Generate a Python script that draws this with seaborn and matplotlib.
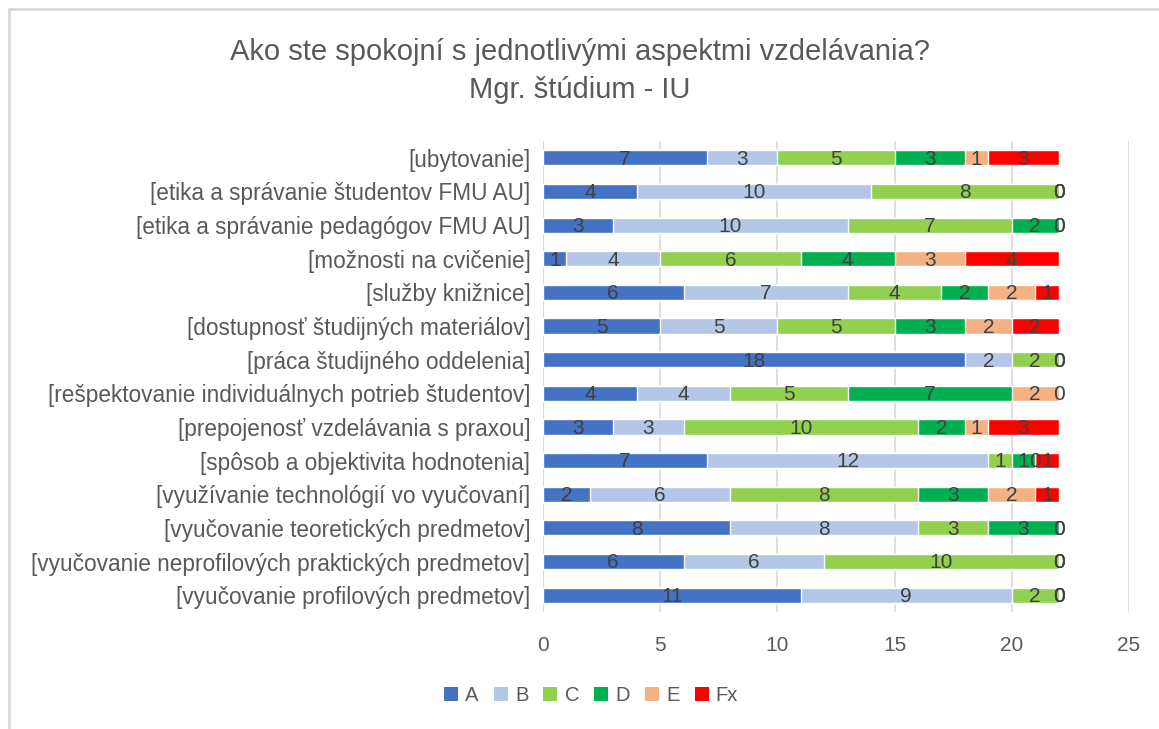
import matplotlib
matplotlib.use('Agg')
import matplotlib.pyplot as plt
from matplotlib.patches import Rectangle, Patch
import pandas as pd
import seaborn as sns

# kategorie (zhora nadol)
kategorie = [
    '[ubytovanie]',
    '[etika a správanie študentov FMU AU]',
    '[etika a správanie pedagógov FMU AU]',
    '[možnosti na cvičenie]',
    '[služby knižnice]',
    '[dostupnosť študijných materiálov]',
    '[práca študijného oddelenia]',
    '[rešpektovanie individuálnych potrieb študentov]',
    '[prepojenosť vzdelávania s praxou]',
    '[spôsob a objektivita hodnotenia]',
    '[využívanie technológií vo vyučovaní]',
    '[vyučovanie teoretických predmetov]',
    '[vyučovanie neprofilových praktických predmetov]',
    '[vyučovanie profilových predmetov]',
]

znamky = ['A', 'B', 'C', 'D', 'E', 'Fx']

hodnoty_A = [7, 4, 3, 1, 6, 5, 18, 4, 3, 7, 2, 8, 6, 11]
hodnoty_B = [3, 10, 10, 4, 7, 5, 2, 4, 3, 12, 6, 8, 6, 9]
hodnoty_C = [5, 8, 7, 6, 4, 5, 2, 5, 10, 1, 8, 3, 10, 2]
hodnoty_D = [3, 0, 2, 4, 2, 3, 0, 7, 2, 1, 3, 3, 0, 0]
hodnoty_E = [1, 0, 0, 3, 2, 2, 0, 2, 1, 0, 2, 0, 0, 0]
hodnoty_Fx = [3, 0, 0, 4, 1, 2, 0, 0, 3, 1, 1, 0, 0, 0]

farby = ['#4472C4', '#B4C7E7', '#92D050', '#00B050', '#F4B183', '#FF0000']

df = pd.DataFrame({'Kategoria': kategorie, 'A': hodnoty_A, 'B': hodnoty_B,
                   'C': hodnoty_C, 'D': hodnoty_D, 'E': hodnoty_E, 'Fx': hodnoty_Fx})

kumul = df[znamky].cumsum(axis=1)
kumul['Kategoria'] = df['Kategoria']

sns.set_style('white')
plt.rcParams['font.family'] = ['Liberation Sans', 'DejaVu Sans']

fig = plt.figure(figsize=(11.59, 7.29), dpi=100)
ax = fig.add_axes([0.4685, 0.1605, 0.974 - 0.4685, 0.8066 - 0.1605])

# stacked bary: kreslime kumulativne sucty odzadu
for znamka, farba in reversed(list(zip(znamky, farby))):
    sns.barplot(data=kumul, x=znamka, y='Kategoria', order=kategorie,
                color=farba, width=0.45, ax=ax, saturation=1, orient='h')

# popisky hodnot v strede segmentov
for i in range(len(df)):
    zaciatok = 0
    for znamka in znamky:
        v = df.loc[i, znamka]
        ax.text(zaciatok + v / 2, i + 0.04, str(v), ha='center', va='center',
                fontsize=15, color='#404040')
        zaciatok += v

ax.set_xlim(0, 25)
ax.set_ylim(len(kategorie) - 0.5, -0.5)
ax.set_xticks(range(0, 26, 5))
ax.xaxis.grid(True, color='#d9d9d9', linewidth=1.2)
ax.set_axisbelow(True)
for s in ax.spines.values():
    s.set_visible(False)
ax.axvline(0, color='#d9d9d9', linewidth=1.5, zorder=0)
ax.set_xlabel('')
ax.set_ylabel('')
ax.tick_params(axis='x', labelsize=15, colors='#595959', length=0, pad=17)
ax.tick_params(axis='y', labelsize=16.3, colors='#595959', length=0, pad=9)

fig.text(0.5, 0.928, 'Ako ste spokojní s jednotlivými aspektmi vzdelávania?',
         ha='center', va='center', fontsize=21, color='#595959')
fig.text(0.5, 0.876, 'Mgr. štúdium - IU', ha='center', va='center',
         fontsize=21, color='#595959')

handles = [Patch(facecolor=f, edgecolor='none') for f in farby]
fig.legend(handles, znamky, loc='center', bbox_to_anchor=(0.51, 0.046), ncol=6,
           frameon=False, fontsize=14.5, handlelength=0.7, handleheight=0.7,
           handletextpad=0.35, columnspacing=0.75, labelcolor='#595959')

# ramik grafu
fig.patches.append(Rectangle((9 / 1159, -0.1), 1.2, 1 - 9 / 729 + 0.1,
                             transform=fig.transFigure, fill=False,
                             edgecolor='#d9d9d9', linewidth=2))

fig.savefig('out.png', dpi=100)
